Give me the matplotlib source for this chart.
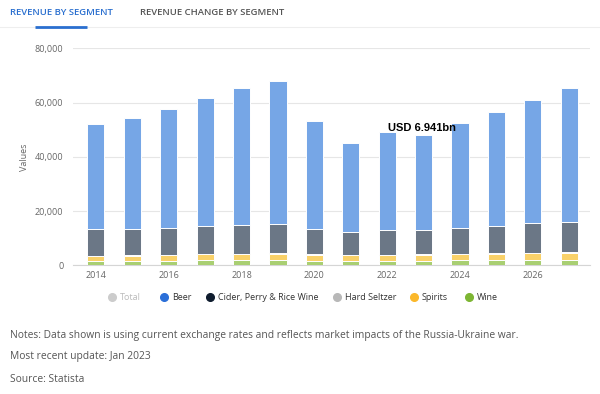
import matplotlib.pyplot as plt

# data (USD million)
years = list(range(2014, 2028))
wine = [1500, 1500, 1550, 1900, 1900, 1950, 1600, 1550, 1650, 1700, 1900, 1950, 2000, 2050]
spirits = [2050, 2050, 2100, 2150, 2150, 2300, 2250, 2100, 2150, 2200, 2250, 2400, 2450, 2600]
hard_seltzer = [60, 80, 100, 120, 120, 170, 200, 150, 120, 150, 130, 190, 200, 250]
cider = [9690, 9810, 9990, 10210, 10580, 10700, 9450, 8590, 8980, 9080, 9360, 10060, 10840, 11180]
beer = [38970, 40810, 43880, 47410, 50620, 52830, 39810, 32590, 36140, 35020, 38940, 42030, 45460, 49290]

series = ['Wine', 'Spirits', 'Hard Seltzer', 'Cider, Perry & Rice Wine', 'Beer']
values = [wine, spirits, hard_seltzer, cider, beer]
bar_colors = ['#a9cf72', '#f9d169', '#c8c8c8', '#6b7786', '#76a6e6']

legend_names = ['Total', 'Beer', 'Cider, Perry & Rice Wine', 'Hard Seltzer', 'Spirits', 'Wine']
legend_colors = ['#cccccc', '#2b6fd8', '#0f1c2e', '#b8b8b8', '#fbb82b', '#7db633']

plt.rcParams['font.family'] = ['Open Sans', 'DejaVu Sans']

fig = plt.figure(figsize=(6, 3.94), dpi=100)
ax = fig.add_axes([73 / 600, 1 - 265.3 / 394, 517 / 600, 217 / 394])

bottom = [0] * len(years)
for name, vals, c in zip(series, values, bar_colors):
    ax.bar(years, vals, bottom=bottom, width=0.47, color=c, edgecolor='white', linewidth=0.7, zorder=3)
    bottom = [b + v for b, v in zip(bottom, vals)]

ax.set_xlim(2013.37, 2027.57)
ax.set_ylim(0, 80000)
ax.set_yticks([0, 20000, 40000, 60000, 80000])
ax.set_yticklabels(['0', '20,000', '40,000', '60,000', '80,000'])
ax.set_xticks(list(range(2014, 2028, 2)))
ax.tick_params(axis='both', length=0, labelsize=6.5, labelcolor='#666666')
ax.tick_params(axis='y', pad=7)
ax.tick_params(axis='x', pad=4)
ax.grid(axis='y', color='#e6e6e6', linewidth=0.8, zorder=0)
for s in ['top', 'right', 'left']:
    ax.spines[s].set_visible(False)
ax.spines['bottom'].set_color('#d5d5d5')
ax.spines['bottom'].set_linewidth(0.8)
ax.set_ylabel('Values', fontsize=6.5, color='#666666', labelpad=4)

ax.text(2022.02, 50600, 'USD 6.941bn', fontsize=8, fontweight='bold', color='black',
        family=['Liberation Sans', 'DejaVu Sans'], va='center', ha='left', zorder=5)

# overlay in pixel coordinates for tabs, legend and notes
ov = fig.add_axes([0, 0, 1, 1])
ov.set_xlim(0, 600)
ov.set_ylim(394, 0)
ov.axis('off')
ov.patch.set_alpha(0)

ov.text(10, 12, 'REVENUE BY SEGMENT', fontsize=6.8, color='#2a6fcf', fontweight='semibold', va='center')
ov.text(140, 12, 'REVENUE CHANGE BY SEGMENT', fontsize=6.8, color='#555555', fontweight='semibold', va='center')
ov.plot([0, 600], [27, 27], color='#eeeeee', linewidth=0.8)
ov.plot([35, 87], [26.5, 26.5], color='#2a6fcf', linewidth=2, solid_capstyle='butt')

dot_x = [112, 164, 210, 337, 414, 469]
for x, name, c in zip(dot_x, legend_names, legend_colors):
    ov.plot(x, 297, marker='o', markersize=5.5, color=c, linestyle='none')
    ov.text(x + 8, 297.5, name, fontsize=6.5, color='#bbbbbb' if name == 'Total' else '#333333', va='center')

notes = ['Notes: Data shown is using current exchange rates and reflects market impacts of the Russia-Ukraine war.',
         'Most recent update: Jan 2023',
         'Source: Statista']
for y, t in zip([335.5, 357, 380], notes):
    ov.text(10, y, t, fontsize=7.4, color='#555555', va='center')

fig.savefig('out.png', dpi=100, facecolor='white')
